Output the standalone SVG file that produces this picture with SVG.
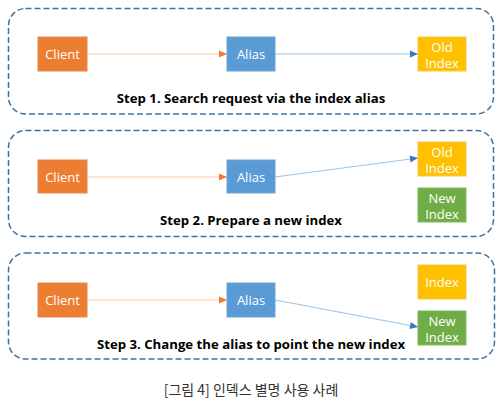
<svg xmlns="http://www.w3.org/2000/svg" width="502" height="404" viewBox="0 0 502 404">
<defs>
<style>
.frame{fill:none;stroke:#41719C;stroke-width:1.5;stroke-dasharray:6 3}
.node rect{stroke-width:1}
.client rect{fill:#ED7D31;stroke:#E08A50}
.alias rect{fill:#5B9BD5;stroke:#6FA5D8}
.old rect{fill:#FFC000;stroke:#F5C84A}
.new rect{fill:#70AD47;stroke:#82B860}
.node text{fill:#FFFFFF;font-family:"Open Sans","Noto Sans CJK KR",sans-serif;font-size:13px;text-anchor:middle;dominant-baseline:central}
.step{fill:#000000;font-family:"Open Sans","Noto Sans CJK KR",sans-serif;font-size:13.2px;font-weight:bold;text-anchor:middle}
.cap{fill:#333333;font-family:"Noto Sans CJK KR",sans-serif;font-size:14px;text-anchor:middle}
.oline{stroke:#F8CBAD;stroke-width:1.2;fill:none}
.bline{stroke:#9DC3E6;stroke-width:1.2;fill:none}
</style>
<marker id="ao" markerWidth="10" markerHeight="10" refX="9" refY="5" orient="auto" markerUnits="userSpaceOnUse">
<path d="M1,1.5 L9,5 L1,8.5 Z" fill="#ED7D31"/>
</marker>
<marker id="ab" markerWidth="10" markerHeight="10" refX="9" refY="5" orient="auto" markerUnits="userSpaceOnUse">
<path d="M1,1.5 L9,5 L1,8.5 Z" fill="#4472C4"/>
</marker>
</defs>
<rect width="502" height="404" fill="#FFFFFF"/>

<g id="step1">
<rect class="frame" x="8.5" y="8.5" width="485" height="105.5" rx="17"/>
<text class="step" x="251" y="103">Step 1. Search request via the index alias</text>
</g>
<g id="step2">
<rect class="frame" x="8.5" y="130.5" width="485" height="106" rx="17"/>
<text class="step" x="251" y="225">Step 2. Prepare a new index</text>
</g>
<g id="step3">
<rect class="frame" x="8.5" y="253" width="486" height="106" rx="17"/>
<text class="step" x="251" y="349">Step 3. Change the alias to point the new index</text>
</g>

<g id="connectors">
<line class="oline" x1="87" y1="54" x2="227" y2="54" marker-end="url(#ao)"/>
<line class="bline" x1="275" y1="54" x2="418" y2="54" marker-end="url(#ab)"/>
<line class="oline" x1="87" y1="177" x2="227" y2="177" marker-end="url(#ao)"/>
<line class="bline" x1="275" y1="177" x2="418" y2="158" marker-end="url(#ab)"/>
<line class="oline" x1="87" y1="300" x2="227" y2="300" marker-end="url(#ao)"/>
<line class="bline" x1="275" y1="300" x2="418" y2="327" marker-end="url(#ab)"/>
</g>

<g id="client1" class="node client"><rect x="38" y="37" width="49" height="34"/><text x="62.5" y="54">Client</text></g>
<g id="alias1" class="node alias"><rect x="227" y="37" width="48" height="34"/><text x="251" y="54">Alias</text></g>
<g id="old1" class="node old"><rect x="418" y="37" width="48" height="34"/><text x="442" y="46.5">Old</text><text x="442" y="63">Index</text></g>

<g id="client2" class="node client"><rect x="38" y="160" width="49" height="33"/><text x="62.5" y="176.5">Client</text></g>
<g id="alias2" class="node alias"><rect x="227" y="160" width="48" height="33"/><text x="251" y="176.5">Alias</text></g>
<g id="old2" class="node old"><rect x="418" y="142" width="48" height="34"/><text x="442" y="151.5">Old</text><text x="442" y="168">Index</text></g>
<g id="new2" class="node new"><rect x="418" y="188" width="48" height="34"/><text x="442" y="197.5">New</text><text x="442" y="214">Index</text></g>

<g id="client3" class="node client"><rect x="38" y="283" width="49" height="34"/><text x="62.5" y="300">Client</text></g>
<g id="alias3" class="node alias"><rect x="227" y="283" width="48" height="34"/><text x="251" y="300">Alias</text></g>
<g id="old3" class="node old"><rect x="418" y="265" width="48" height="34"/><text x="442" y="282">Index</text></g>
<g id="new3" class="node new"><rect x="418" y="311" width="48" height="34"/><text x="442" y="320.5">New</text><text x="442" y="337">Index</text></g>

<text class="cap" x="251" y="395">[그림 4] 인덱스 별명 사용 사례</text>
</svg>
